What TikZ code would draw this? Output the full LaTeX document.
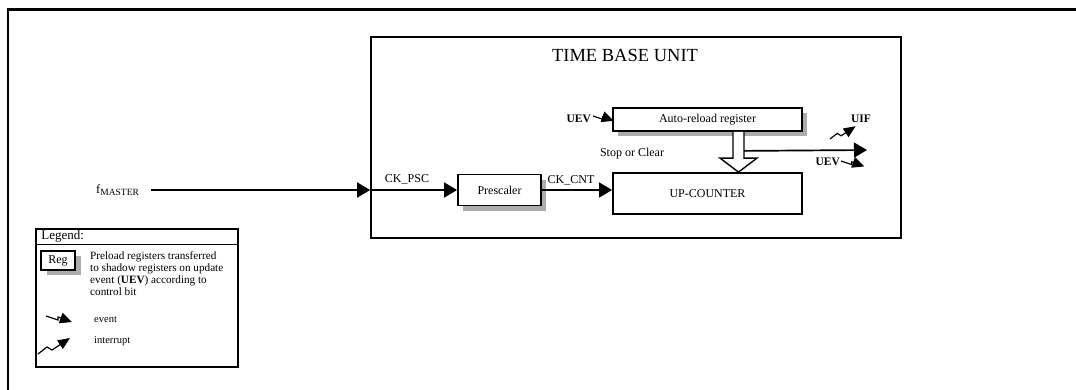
\documentclass[tikz,border=0pt]{standalone}
\usepackage{fontspec}
\setmainfont{Liberation Serif}
\usetikzlibrary{arrows.meta,shadows,calc}
\begin{document}
\begin{tikzpicture}[x=1pt,y=-1pt,
  box/.style={draw,line width=1.8pt,rectangle,inner sep=0pt,fill=white,font=\fontsize{12}{13}\selectfont},
  shad/.style={drop shadow={shadow xshift=5pt,shadow yshift=-5pt,fill=gray!65,opacity=1}},
  lbl/.style={font=\fontsize{12}{13}\selectfont,inner sep=0pt},
  bl/.style={font=\bfseries\fontsize{11.5}{12}\selectfont,inner sep=0pt},
  arr/.style={line width=1.7pt,-{Triangle[length=13pt,width=15pt]}},
  hollow/.style={line width=1.4pt,fill=white,line join=miter},
  evt/.pic={\draw[line width=1.2pt,-{Triangle[length=12pt,width=11pt]}] (0,0) -- (12,4) -- (12,1) -- (26,6);},
  intr/.pic={\draw[line width=1.2pt,-{Triangle[length=12pt,width=10pt]}] (0,0) -- (9,-7) -- (14,-4) -- (32,-16);}
]
\useasboundingbox (0,0) rectangle (1076,389);
% outer frame
\draw[line width=2.2pt] (8,395) -- (8,9.5) -- (1080,9.5);

% time base unit
\node[draw,line width=1.7pt,rectangle,minimum width=530pt,minimum height=201pt,inner sep=0pt] (tbu) at (636,137.5) {};
\node[font=\fontsize{18.5}{20}\selectfont,inner sep=0pt] (tbut) at (625,55) {TIME BASE UNIT};

\node[box,shad,minimum width=189pt,minimum height=23pt] (ar) at (707.5,119.5) {Auto-reload register};
\node[box,minimum width=189pt,minimum height=41pt] (cnt) at (707.5,193.5) {UP-COUNTER};
\node[box,shad,minimum width=83pt,minimum height=31pt] (pre) at (499.5,190) {Prescaler};

% input
\node[anchor=west,inner sep=0pt] (fm) at (96,190) {{\fontsize{12.5}{14}\selectfont f}\raisebox{-2.5pt}{\fontsize{9.5}{10}\selectfont MASTER}};
\coordinate (fmout) at ($(fm.east)+(12,0)$);
\coordinate (tbuin) at (tbu.west |- pre.west);
\draw[arr] (fmout) -- (tbuin);
\draw[arr] (tbuin) -- (pre.west);
\node[lbl] (ckpsc) at (407,179) {CK\_PSC};
\draw[arr] (pre.east) -- (pre.east -| cnt.west);
\node[lbl] (ckcnt) at (571,180) {CK\_CNT};
\node[lbl] (soc) at (632,154) {Stop or Clear};

% hollow arrow auto-reload -> counter
\draw[hollow] ($(ar.south)+(25.5,0)$) -- ($(cnt.north)+(25.5,-14)$) -- ($(cnt.north)+(12.5,-14)$)
  -- ($(cnt.north)+(31,0)$) -- ($(cnt.north)+(49.5,-14)$) -- ($(cnt.north)+(36.5,-14)$) -- ($(ar.south)+(36.5,0)$);
\coordinate (uout) at (867,150);
\draw[arr] ($(ar.south)+(36.5,19)$) -- (uout);

% events
\node[bl,anchor=east] (uev1) at (591,119) {UEV};
\pic[scale=0.8] at (593,116) {evt};
\node[bl] (uif) at (861,119) {UIF};
\pic[scale=0.8] at (830,139) {intr};
\node[bl,anchor=east] (uev2) at (840,162) {UEV};
\pic[scale=0.9] at (841,161) {evt};

% legend
\node[draw,line width=1.6pt,rectangle,minimum width=202pt,minimum height=138pt,inner sep=0pt] (leg) at (137,298) {};
\draw[line width=1.4pt] ($(leg.north west)+(0,16)$) -- ($(leg.north east)+(0,16)$);
\node[anchor=west,inner sep=0pt,font=\fontsize{13}{14}\selectfont] (legt) at ($(leg.north west)+(6,8)$) {Legend:};
\node[box,drop shadow={shadow xshift=6pt,shadow yshift=-5pt,fill=gray!65,opacity=1},minimum width=34pt,minimum height=19pt,font=\fontsize{12}{13}\selectfont] (reg) at (58,260.5) {Reg};
\node[anchor=north west,align=left,inner sep=0pt,font=\fontsize{11.2}{12.3}\selectfont] (legtxt) at (90,251) {Preload registers transferred\\to shadow registers on update\\event (\textbf{UEV}) according to\\control bit};
\pic at (46,316) {evt};
\node[anchor=west,inner sep=0pt,font=\fontsize{10.5}{12}\selectfont] (evtl) at (94,320) {event};
\pic at (38,354) {intr};
\node[anchor=west,inner sep=0pt,font=\fontsize{10.5}{12}\selectfont] (intl) at (94,341) {interrupt};
\end{tikzpicture}
\end{document}
